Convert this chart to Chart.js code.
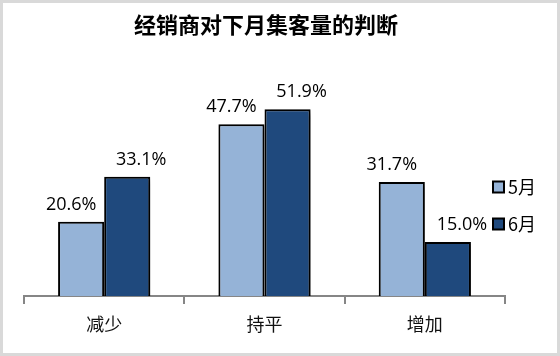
<!DOCTYPE html>
<html><head><meta charset="utf-8">
<script src="https://cdn.jsdelivr.net/npm/chart.js@4/dist/chart.umd.min.js"></script>
<style>html,body{margin:0;padding:0;background:#fff}#wrap{width:560px;height:356px;position:relative}</style>
</head><body><div id="wrap"><canvas id="c" width="560" height="356"></canvas></div>
<script>
const titleText = '经销商对下月集客量的判断';
const categories = ['减少', '持平', '增加'];
const seriesNames = ['5月', '6月'];
const may = [20.6, 47.7, 31.7];
const june = [33.1, 51.9, 15.0];
const colors = ['#95B3D7', '#1F497D'];
const labelOffsets = [-10, 14];

const FONT = '"Open Sans","Noto Sans CJK SC",sans-serif';
const CJK = '"Noto Sans CJK SC","Open Sans",sans-serif';

const decor = {
  id: 'decor',
  beforeDraw(chart) {
    const ctx = chart.ctx;
    ctx.save();
    ctx.fillStyle = '#fff';
    ctx.fillRect(0, 0, chart.width, chart.height);
    ctx.strokeStyle = '#d9d9d9';
    ctx.lineWidth = 3;
    ctx.strokeRect(1.5, 1.5, chart.width - 3, chart.height - 3);
    ctx.fillStyle = '#000';
    ctx.font = 'bold 22px ' + CJK;
    ctx.textAlign = 'center';
    ctx.textBaseline = 'middle';
    ctx.fillText(titleText, 266, 25);
    ctx.restore();
  },
  beforeDatasetsDraw(chart) {
    const ctx = chart.ctx;
    ctx.save();
    ctx.shadowColor = 'rgba(0,0,0,0.4)';
    ctx.shadowBlur = 6;
    ctx.shadowOffsetX = 4;
    ctx.shadowOffsetY = 3;
  },
  afterDatasetsDraw(chart) {
    const ctx = chart.ctx;
    ctx.restore();
    ctx.save();
    ctx.fillStyle = '#000';
    ctx.font = '18px ' + FONT;
    ctx.textAlign = 'center';
    ctx.textBaseline = 'middle';
    chart.data.datasets.forEach((ds, i) => {
      const meta = chart.getDatasetMeta(i);
      meta.data.forEach((bar, j) => {
        ctx.fillText(ds.data[j].toFixed(1) + '%', bar.x + labelOffsets[i], bar.y - 17);
      });
    });
    // legend
    const ly = [187, 224];
    chart.data.datasets.forEach((ds, i) => {
      ctx.fillStyle = ds.backgroundColor;
      ctx.fillRect(493, ly[i] - 5.5, 11, 11);
      ctx.strokeStyle = '#000';
      ctx.lineWidth = 2;
      ctx.strokeRect(493, ly[i] - 5.5, 11, 11);
      ctx.fillStyle = '#000';
      ctx.font = '18px ' + CJK;
      ctx.textAlign = 'left';
      ctx.fillText(ds.label, 508, ly[i]);
    });
    ctx.restore();
  }
};

new Chart(document.getElementById('c'), {
  type: 'bar',
  data: {
    labels: categories,
    datasets: [
      { label: seriesNames[0], data: may, backgroundColor: colors[0], borderColor: '#000', borderWidth: 2 },
      { label: seriesNames[1], data: june, backgroundColor: colors[1], borderColor: '#000', borderWidth: 2 }
    ]
  },
  options: {
    responsive: false,
    animation: false,
    events: [],
    layout: { padding: { left: 24, right: 55, top: 80, bottom: 0 } },
    datasets: { bar: { categoryPercentage: 0.575, barPercentage: 1.0 } },
    plugins: { legend: { display: false }, title: { display: false }, tooltip: { enabled: false } },
    scales: {
      x: {
        grid: { offset: true, drawOnChartArea: false, drawTicks: true, tickLength: 8, color: '#868686', lineWidth: 2 },
        border: { color: '#868686', width: 2 },
        ticks: { color: '#111', font: { family: CJK, size: 18 }, padding: 9 },
        afterFit(s) { s.height = 60; }
      },
      y: { display: false, min: 0, max: 60 }
    }
  },
  plugins: [decor]
});
</script></body></html>
